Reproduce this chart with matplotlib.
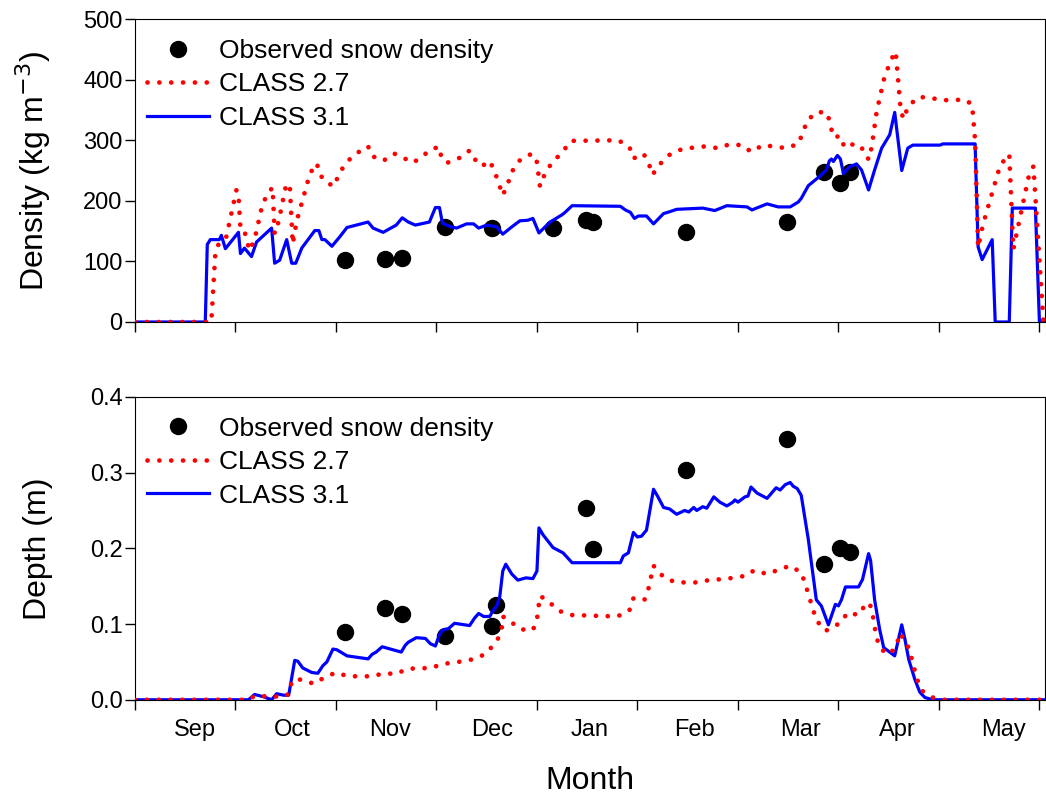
import matplotlib.pyplot as plt

plt.rcParams['font.family'] = ['Liberation Sans', 'DejaVu Sans']

# x is measured in months from the start of the axis (0 = first tick)
months = ['Sep', 'Oct', 'Nov', 'Dec', 'Jan', 'Feb', 'Mar', 'Apr', 'May']
month_label_x = [0.60, 1.57, 2.54, 3.55, 4.52, 5.57, 6.62, 7.59, 8.64]

# Observations
obs_density_x = [2.09, 2.49, 2.66, 3.09, 3.55, 4.16, 4.49, 4.56, 5.48, 6.49, 6.86, 7.02, 7.12]
obs_density = [102, 104, 106, 157, 155, 155, 168, 165, 149, 165, 247, 229, 247]
obs_depth_x = [2.09, 2.49, 2.66, 3.09, 3.55, 3.59, 4.49, 4.56, 5.48, 6.49, 6.86, 7.02, 7.12]
obs_depth = [0.089, 0.121, 0.113, 0.084, 0.098, 0.125, 0.253, 0.199, 0.303, 0.345, 0.179, 0.201, 0.195]

# CLASS 2.7 density
c27_den_x = [0.00, 0.76, 0.80, 0.84, 0.91, 1.01, 1.03, 1.05, 1.09, 1.11, 1.14, 1.19, 1.27, 1.33,
             1.37, 1.39, 1.43, 1.50, 1.54, 1.57, 1.61, 1.71, 1.74, 1.81, 1.84, 1.89, 1.98, 2.03,
             2.10, 2.20, 2.32, 2.36, 2.47, 2.58, 2.67, 2.77, 2.86, 2.96, 3.03, 3.05, 3.11, 3.22,
             3.33, 3.38, 3.45, 3.53, 3.58, 3.62, 3.66, 3.71, 3.75, 3.83, 3.95, 4.00, 4.03, 4.07,
             4.14, 4.25, 4.34, 4.81, 4.92, 4.96, 5.06, 5.11, 5.15, 5.22, 5.32, 5.45, 5.68, 5.80,
             5.91, 6.04, 6.13, 6.25, 6.48, 6.60, 6.65, 6.69, 6.79, 6.89, 6.95, 7.02, 7.06, 7.17,
             7.26, 7.30, 7.33, 7.38, 7.46, 7.56, 7.57, 7.62, 7.65, 7.69, 7.79, 7.90, 8.02, 8.26,
             8.33, 8.36, 8.39, 8.44, 8.61, 8.70, 8.74, 8.89, 8.94, 9.04, 9.06]
c27_den = [0, 0, 114, 132, 141, 218, 211, 153, 150, 137, 118, 136, 195, 214,
           222, 146, 166, 223, 228, 129, 167, 226, 245, 262, 244, 232, 224, 244,
           263, 278, 290, 274, 266, 278, 271, 263, 274, 286, 289, 270, 263, 270,
           283, 269, 257, 266, 248, 229, 209, 228, 248, 267, 278, 264, 224, 241,
           261, 280, 299, 300, 289, 270, 278, 263, 243, 260, 276, 286, 290, 287,
           293, 292, 281, 292, 287, 294, 314, 333, 347, 345, 305, 307, 288, 295,
           283, 268, 288, 347, 406, 446, 446, 348, 335, 355, 371, 371, 366, 367,
           359, 300, 123, 162, 259, 277, 120, 238, 257, 0, 0]

# CLASS 3.1 density
c31_den_x = [0.00, 0.70, 0.72, 0.75, 0.84, 0.86, 0.90, 1.03, 1.05, 1.09, 1.16, 1.21, 1.36, 1.39,
             1.44, 1.51, 1.56, 1.60, 1.66, 1.79, 1.83, 1.86, 1.89, 1.96, 2.04, 2.11, 2.32, 2.37,
             2.47, 2.60, 2.66, 2.72, 2.79, 2.93, 2.99, 3.03, 3.06, 3.13, 3.20, 3.30, 3.37, 3.42,
             3.50, 3.60, 3.66, 3.75, 3.83, 3.91, 3.96, 4.02, 4.13, 4.25, 4.28, 4.35, 4.83, 4.88,
             4.93, 4.97, 5.01, 5.09, 5.16, 5.26, 5.32, 5.39, 5.65, 5.77, 5.89, 6.09, 6.14, 6.29,
             6.40, 6.52, 6.60, 6.63, 6.70, 6.81, 6.88, 6.91, 6.93, 6.95, 6.99, 7.02, 7.05, 7.11,
             7.18, 7.23, 7.30, 7.36, 7.43, 7.51, 7.56, 7.63, 7.69, 7.74, 8.01, 8.04, 8.36, 8.39,
             8.43, 8.53, 8.56, 8.70, 8.73, 8.96, 9.00, 9.06]
c31_den = [0, 0, 128, 136, 136, 143, 121, 148, 113, 122, 108, 132, 155, 97,
           102, 136, 97, 97, 122, 151, 151, 136, 136, 125, 141, 156, 165, 155,
           148, 160, 172, 165, 160, 165, 189, 189, 163, 158, 155, 162, 162, 155,
           160, 157, 145, 157, 167, 168, 171, 147, 165, 177, 181, 192, 191, 185,
           181, 171, 175, 175, 162, 179, 182, 186, 188, 184, 192, 190, 185, 195,
           190, 190, 198, 204, 225, 240, 251, 266, 269, 265, 275, 269, 245, 256,
           261, 251, 218, 251, 287, 309, 346, 250, 287, 292, 292, 294, 294, 124,
           103, 136, 0, 0, 188, 188, 0, 0]

# CLASS 2.7 depth
c27_dep_x = [0.00, 1.13, 1.19, 1.49, 1.54, 1.56, 1.66, 1.78, 1.88, 2.00, 2.12, 2.36, 2.48, 2.60,
             2.71, 2.95, 3.05, 3.27, 3.38, 3.48, 3.56, 3.61, 3.65, 3.66, 3.72, 3.84, 3.96, 4.00,
             4.03, 4.10, 4.21, 4.33, 4.80, 4.92, 4.96, 5.07, 5.11, 5.16, 5.26, 5.38, 5.61, 5.74,
             5.85, 6.09, 6.16, 6.29, 6.41, 6.52, 6.63, 6.67, 6.78, 6.87, 6.94, 7.03, 7.09, 7.20,
             7.27, 7.31, 7.34, 7.38, 7.43, 7.51, 7.58, 7.61, 7.68, 7.72, 7.78, 7.83, 7.94, 8.05,
             9.06]
c27_dep = [0, 0, 0.005, 0.004, 0.009, 0.025, 0.027, 0.021, 0.029, 0.036, 0.031, 0.031, 0.035, 0.034,
           0.041, 0.042, 0.047, 0.051, 0.054, 0.060, 0.071, 0.080, 0.095, 0.110, 0.105, 0.093, 0.092, 0.106,
           0.137, 0.132, 0.118, 0.112, 0.110, 0.118, 0.134, 0.132, 0.147, 0.177, 0.162, 0.155, 0.155, 0.159,
           0.159, 0.164, 0.171, 0.166, 0.172, 0.177, 0.168, 0.153, 0.105, 0.091, 0.095, 0.103, 0.115, 0.112,
           0.126, 0.128, 0.113, 0.081, 0.066, 0.060, 0.072, 0.088, 0.075, 0.059, 0.028, 0.012, 0.003, 0,
           0]

# CLASS 3.1 depth
c31_dep_x = [0.00, 1.13, 1.19, 1.28, 1.36, 1.41, 1.48, 1.53, 1.59, 1.62, 1.67, 1.76, 1.82, 1.87,
             1.91, 1.97, 2.01, 2.11, 2.32, 2.36, 2.40, 2.46, 2.65, 2.69, 2.72, 2.80, 2.89, 2.94,
             2.99, 3.03, 3.06, 3.12, 3.18, 3.33, 3.38, 3.42, 3.47, 3.53, 3.57, 3.60, 3.63, 3.66,
             3.69, 3.75, 3.81, 3.89, 3.96, 4.00, 4.02, 4.06, 4.16, 4.26, 4.35, 4.83, 4.86, 4.91,
             4.96, 5.00, 5.04, 5.09, 5.16, 5.20, 5.26, 5.32, 5.39, 5.47, 5.51, 5.56, 5.59, 5.65,
             5.69, 5.76, 5.82, 5.89, 5.95, 5.97, 6.00, 6.07, 6.10, 6.13, 6.19, 6.29, 6.38, 6.42,
             6.47, 6.52, 6.55, 6.59, 6.63, 6.70, 6.78, 6.83, 6.90, 6.97, 7.00, 7.03, 7.07, 7.20,
             7.24, 7.30, 7.32, 7.36, 7.41, 7.45, 7.50, 7.56, 7.63, 7.66, 7.70, 7.76, 7.81, 7.86,
             7.94, 9.06]
c31_dep = [0, 0, 0.007, 0.004, 0.0, 0.008, 0.006, 0.006, 0.052, 0.051, 0.042, 0.036, 0.035, 0.045,
           0.050, 0.067, 0.066, 0.058, 0.054, 0.060, 0.063, 0.070, 0.063, 0.072, 0.076, 0.082, 0.081, 0.074,
           0.071, 0.086, 0.092, 0.094, 0.101, 0.098, 0.108, 0.114, 0.110, 0.110, 0.119, 0.124, 0.136, 0.170,
           0.179, 0.166, 0.158, 0.161, 0.160, 0.170, 0.227, 0.218, 0.201, 0.194, 0.181, 0.181, 0.190, 0.194,
           0.221, 0.215, 0.216, 0.224, 0.278, 0.269, 0.254, 0.252, 0.245, 0.250, 0.248, 0.254, 0.250, 0.255,
           0.253, 0.268, 0.261, 0.256, 0.261, 0.264, 0.261, 0.268, 0.269, 0.281, 0.273, 0.266, 0.280, 0.277,
           0.284, 0.287, 0.282, 0.279, 0.270, 0.212, 0.132, 0.124, 0.099, 0.126, 0.124, 0.132, 0.149, 0.149,
           0.159, 0.193, 0.184, 0.132, 0.093, 0.069, 0.064, 0.058, 0.099, 0.081, 0.053, 0.027, 0.010, 0.003,
           0, 0]

fig = plt.figure(figsize=(10.46, 7.97), dpi=100)
ax1 = fig.add_axes([0.129, 0.596, 0.870, 0.380])
ax2 = fig.add_axes([0.129, 0.122, 0.870, 0.380])

dot_style = dict(color='red', lw=3.4, dashes=(0.01, 2.5), dash_capstyle='round')
line_style = dict(color='blue', lw=2.3)


def draw(ax, ox, oy, x27, y27, x31, y31):
    ax.plot(ox, oy, 'o', color='black', ms=11.5, zorder=1, label='Observed snow density')
    ax.plot(x27, y27, zorder=3, label='CLASS 2.7', **dot_style)
    ax.plot(x31, y31, zorder=2, label='CLASS 3.1', **line_style)
    ax.set_xlim(0, 9.055)
    ax.set_xticks(range(10))
    ax.set_xticks(month_label_x, minor=True)
    ax.tick_params(axis='both', which='major', direction='out', length=7, width=1, labelsize=17, pad=2)
    ax.tick_params(axis='x', which='minor', length=0, labelsize=17, pad=14)
    ax.tick_params(axis='x', which='major', labelbottom=False)
    ax.legend(loc='upper left', bbox_to_anchor=(-0.008, 1.0), frameon=False, fontsize=19,
              handlelength=2.35, handletextpad=0.35, labelspacing=0.36,
              borderaxespad=0.15, borderpad=0.6)
    ax.yaxis.set_label_coords(-0.09, 0.5)


draw(ax1, obs_density_x, obs_density, c27_den_x, c27_den, c31_den_x, c31_den)
ax1.set_ylim(0, 500)
ax1.set_yticks([0, 100, 200, 300, 400, 500])
ax1.set_ylabel('Density (kg m$^{-3}$)', fontsize=23)
ax1.tick_params(axis='x', which='minor', labelbottom=False)

draw(ax2, obs_depth_x, obs_depth, c27_dep_x, c27_dep, c31_dep_x, c31_dep)
ax2.set_ylim(0, 0.4)
ax2.set_yticks([0.0, 0.1, 0.2, 0.3, 0.4])
ax2.set_yticklabels(['0.0', '0.1', '0.2', '0.3', '0.4'])
ax2.set_xticklabels(months, minor=True)
ax2.set_ylabel('Depth (m)', fontsize=23)
ax2.set_xlabel('Month', fontsize=23)
ax2.xaxis.set_label_coords(0.5, -0.218)

plt.savefig('out.png', dpi=100)
